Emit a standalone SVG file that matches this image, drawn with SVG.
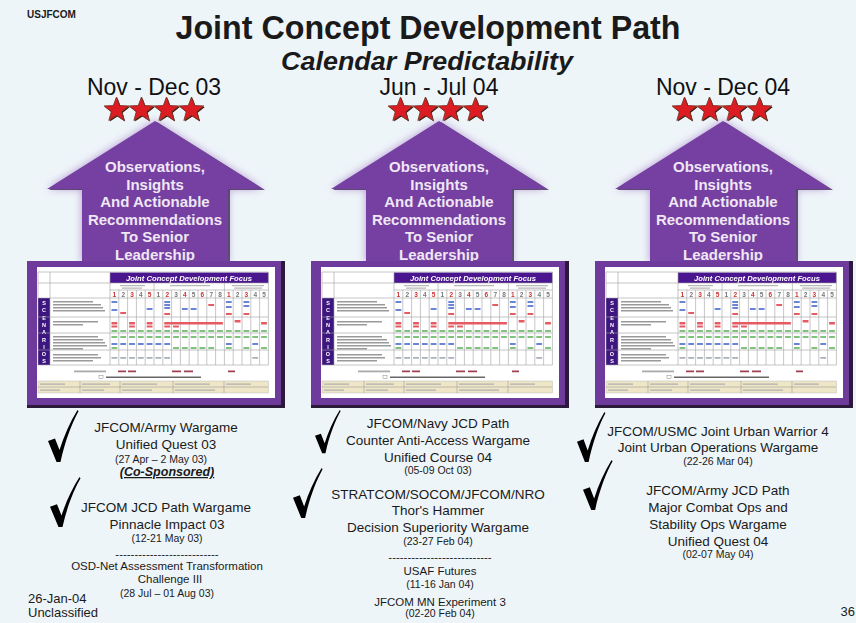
<svg xmlns="http://www.w3.org/2000/svg" xmlns:xlink="http://www.w3.org/1999/xlink" width="856" height="623" viewBox="0 0 856 623">
<style>
text{font-family:"Liberation Sans",Arial,sans-serif;fill:#1a1a1a}
.month{font-size:23px;text-anchor:middle;fill:#111}
.arr{font-size:15px;font-weight:bold;text-anchor:middle;fill:#efe7f4}
.t{font-size:13.5px;text-anchor:middle}
.d{font-size:10.5px;text-anchor:middle}
.s{font-size:11.5px;text-anchor:middle}
.num{font-size:6.5px;font-weight:bold;text-anchor:middle;fill:#777}
.num.r{fill:#d03030}
.sc{font-size:5.5px;font-weight:bold;text-anchor:middle;fill:#fff}
.gl{stroke:#a0a0a0;stroke-width:.6;fill:none}
.gb{fill:#9a9a9a}
</style>
<defs>
<filter id="soft" x="-5%" y="-5%" width="110%" height="110%"><feGaussianBlur stdDeviation="0.45"/></filter>
<filter id="glow" x="-20%" y="-20%" width="140%" height="140%"><feGaussianBlur stdDeviation="4"/></filter>
<filter id="edge" x="-5%" y="-5%" width="110%" height="110%"><feGaussianBlur stdDeviation="0.6"/></filter>
<path id="star" d="M0,-13 L3.23,-4.45 L12.36,-4.02 L5.23,1.7 L7.64,10.52 L0,5.5 L-7.64,10.52 L-5.23,1.7 L-12.36,-4.02 L-3.23,-4.45 Z"/>
<g id="star3d">
<use href="#star" transform="translate(1,1)" fill="#3a1a10"/>
<use href="#star" fill="#dc1b22" stroke="#7a3526" stroke-width="0.9"/>
</g>
<g id="stars">
<use href="#star3d" x="116.5" y="110"/>
<use href="#star3d" x="141.5" y="110"/>
<use href="#star3d" x="166.5" y="110"/>
<use href="#star3d" x="191.5" y="110"/>
</g>
<path id="arrowP" d="M155 121L263 189H228V263H82V189H47Z"/>
<g id="arrow">
<use href="#arrowP" fill="#b596d2" filter="url(#glow)"/>
<use href="#arrowP" transform="translate(2,1)" fill="#32204a" opacity="0.75"/>
<use href="#arrowP" fill="#7641a3" filter="url(#edge)"/>
</g>
<g id="frame">
<rect x="27" y="261" width="258" height="147" fill="#2c1a3a"/>
<rect x="27" y="261" width="254" height="144" fill="#6e3a9b"/>
<rect x="37" y="267" width="238" height="131" fill="#ffffff"/>
</g>
<g id="tbl" filter="url(#soft)">
<rect x="110" y="272.5" width="158.4" height="10.5" fill="#4a1490"/>
<text x="189" y="280.8" style="font-size:7.5px;font-weight:bold;font-style:italic;fill:#fff;text-anchor:middle" textLength="126" lengthAdjust="spacingAndGlyphs">Joint Concept Development Focus</text>
<rect x="38" y="298" width="12" height="67" fill="#3d1480"/>
<text class="sc" x="44" y="305">S</text>
<text class="sc" x="44" y="312.3">C</text>
<text class="sc" x="44" y="319.6">E</text>
<text class="sc" x="44" y="326.9">N</text>
<text class="sc" x="44" y="334.2">A</text>
<text class="sc" x="44" y="341.5">R</text>
<text class="sc" x="44" y="348.8">I</text>
<text class="sc" x="44" y="356.1">O</text>
<text class="sc" x="44" y="363.4">S</text>
<path class="gl" d="M38 272V365M50 272V365M110 272V365M268.4 272V365M118.8 290V365M127.6 290V365M136.4 290V365M145.2 290V365M154 283V365M162.8 290V365M171.6 290V365M180.4 290V365M189.2 290V365M198 290V365M206.8 290V365M215.6 290V365M224.4 283V365M233.2 290V365M242 290V365M250.8 290V365M259.6 290V365M38 272H268.4M38 283H268.4M110 290H268.4M38 298H268.4M38 317H268.4M38 333H268.4M38 350H268.4M38 365H268.4"/>
<text class="num r" x="114.4" y="296.6">1</text><text class="num" x="123.2" y="296.6">2</text><text class="num r" x="132" y="296.6">3</text><text class="num" x="140.8" y="296.6">4</text><text class="num r" x="149.6" y="296.6">5</text>
<text class="num" x="158.4" y="296.6">1</text><text class="num r" x="167.2" y="296.6">2</text><text class="num" x="176" y="296.6">3</text><text class="num r" x="184.8" y="296.6">4</text><text class="num" x="193.6" y="296.6">5</text><text class="num r" x="202.4" y="296.6">6</text><text class="num" x="211.2" y="296.6">7</text><text class="num" x="220" y="296.6">8</text>
<text class="num r" x="228.8" y="296.6">1</text><text class="num" x="237.6" y="296.6">2</text><text class="num r" x="246.4" y="296.6">3</text><text class="num" x="255.2" y="296.6">4</text><text class="num" x="264" y="296.6">5</text>
<path fill="#b8b8b8" d="M120 285h25v1.2h-25zM122 287.5h20v1.2h-20zM170 285h40v1.2h-40zM232 285h32v1.2h-32zM234 287.5h28v1.2h-28z"/>
<path class="gb" d="M53 301h40v1.4h-40zM53 304h48v1.4h-48zM53 307h50v1.4h-50zM53 310h52v1.4h-52zM53 321h45v1.4h-45zM53 324h30v1.4h-30zM53 336h45v1.4h-45zM53 339h50v1.4h-50zM53 342h52v1.4h-52zM53 345h54v1.4h-54zM53 348h30v1.4h-30zM53 354h45v1.4h-45zM53 357h48v1.4h-48zM53 360h40v1.4h-40z"/>
<path fill="#6b84d6" d="M111.5 301h5.8v2h-5.8zM111.5 309h5.8v2h-5.8zM146.7 308h5.8v2h-5.8zM164.3 301h5.8v2h-5.8zM164.3 304h5.8v2h-5.8zM164.3 307h5.8v2h-5.8zM181.9 308h5.8v2h-5.8zM190.7 308h5.8v2h-5.8zM225.9 301h5.8v2h-5.8zM225.9 306h5.8v2h-5.8zM243.5 301h5.8v2h-5.8zM243.5 305h5.8v2h-5.8zM111.5 343h5.8v2h-5.8zM120.3 343h5.8v2h-5.8zM129.1 343h5.8v2h-5.8zM137.9 343h5.8v2h-5.8zM146.7 343h5.8v2h-5.8zM155.5 343h5.8v2h-5.8zM164.3 343h5.8v2h-5.8zM225.9 343h5.8v2h-5.8zM252.3 343h5.8v2h-5.8z"/>
<path fill="#a8b0bc" d="M111.5 357h5.8v1.8h-5.8zM120.3 357h5.8v1.8h-5.8zM129.1 357h5.8v1.8h-5.8zM137.9 357h5.8v1.8h-5.8zM146.7 357h5.8v1.8h-5.8zM155.5 357h5.8v1.8h-5.8zM164.3 357h5.8v1.8h-5.8zM252.3 357h5.8v1.8h-5.8z"/>
<path fill="#e65a62" d="M120.3 312h5.8v2h-5.8zM164.3 313h5.8v2h-5.8zM208.3 304h5.8v2h-5.8zM225.9 313h5.8v2h-5.8zM243.5 313h5.8v2h-5.8zM111.5 322h5.8v2.4h-5.8zM129.1 322h5.8v2.4h-5.8zM146.7 322h5.8v2.4h-5.8zM164.3 322h58.6v2.4h-58.6zM261.1 322h5.8v2.4h-5.8zM234.7 320h5.8v2.4h-5.8zM111.5 325.5h5.8v2h-5.8zM129.1 325.5h5.8v2h-5.8zM146.7 325.5h5.8v2h-5.8zM164.3 325.5h5.8v2h-5.8zM173.1 325.5h5.8v2h-5.8z"/>
<path stroke="#7ec27e" stroke-width="2" stroke-dasharray="5.8 3" d="M111.5 331H267.5M111.5 337H267.5"/>
<path fill="#7ec27e" d="M111.5 347h5.8v2h-5.8zM173.1 347h5.8v2h-5.8zM181.9 347h5.8v2h-5.8zM190.7 347h5.8v2h-5.8zM199.5 347h5.8v2h-5.8zM208.3 347h5.8v2h-5.8zM225.9 347h5.8v2h-5.8zM243.5 347h5.8v2h-5.8zM261.1 347h5.8v2h-5.8z"/>
<path fill="#aaa" d="M74 370.5h32v1.8h-32z"/>
<path fill="#a04050" d="M118 370.5h8v1.8h-8zM128 370.5h8v1.8h-8zM172 370.5h9v1.8h-9zM184 370.5h9v1.8h-9zM228 370.5h7v1.8h-7z"/>
<rect x="99" y="375.5" width="4" height="3" fill="none" stroke="#888" stroke-width=".5"/>
<path fill="#666" d="M106 376.5h95v1.6h-95z"/>
<rect x="38" y="381" width="230.4" height="12" fill="#eee6c6" stroke="#bbb" stroke-width=".5"/>
<path class="gl" d="M80 381V393M120 381V393M173 381V393M224 381V393M38 387H268.4"/>
<path fill="#b0b0b0" d="M40 383.5h25v1.2h-25zM40 389.5h20v1.2h-20zM82 383.5h28v1.2h-28zM82 389.5h22v1.2h-22zM122 383.5h35v1.2h-35zM122 389.5h30v1.2h-30zM175 383.5h35v1.2h-35zM175 389.5h40v1.2h-40zM226 383.5h25v1.2h-25z"/>
</g>
<path id="chk" d="M0,31 L7,28.5 L11.5,40 C16,26 22,12 29.5,0 L30.5,1.2 C24,13 17,31 12.5,52 L8.5,52 Z"/>
</defs>

<rect x="0" y="0" width="856" height="623" fill="#eef5f9"/>

<g id="header">
<text x="27" y="18" style="font-size:10px;font-weight:bold">USJFCOM</text>
<text x="428" y="38.5" style="font-size:33px;font-weight:bold;text-anchor:middle" textLength="505" lengthAdjust="spacingAndGlyphs">Joint Concept Development Path</text>
<text x="427" y="69.5" style="font-size:25.5px;font-weight:bold;font-style:italic;text-anchor:middle" textLength="292" lengthAdjust="spacingAndGlyphs">Calendar Predictability</text>
</g>

<g id="col1">
<text class="month" x="154" y="95">Nov - Dec 03</text>
<use href="#stars"/>
<use href="#arrow"/>
<text class="arr"><tspan x="155" y="172">Observations,</tspan><tspan x="155" y="189.5">Insights</tspan><tspan x="155" y="207">And Actionable</tspan><tspan x="155" y="224.5">Recommendations</tspan><tspan x="155" y="242">To Senior</tspan><tspan x="155" y="259.5">Leadership</tspan></text>
<use href="#frame"/>
<use href="#tbl"/>
</g>

<g id="col2" transform="translate(284,0)">
<text class="month" x="155" y="95">Jun - Jul 04</text>
<use href="#stars"/>
<use href="#arrow"/>
<text class="arr"><tspan x="155" y="172">Observations,</tspan><tspan x="155" y="189.5">Insights</tspan><tspan x="155" y="207">And Actionable</tspan><tspan x="155" y="224.5">Recommendations</tspan><tspan x="155" y="242">To Senior</tspan><tspan x="155" y="259.5">Leadership</tspan></text>
<use href="#frame"/>
<use href="#tbl"/>
</g>

<g id="col3" transform="translate(568,0)">
<text class="month" x="155" y="95">Nov - Dec 04</text>
<use href="#stars"/>
<use href="#arrow"/>
<text class="arr"><tspan x="155" y="172">Observations,</tspan><tspan x="155" y="189.5">Insights</tspan><tspan x="155" y="207">And Actionable</tspan><tspan x="155" y="224.5">Recommendations</tspan><tspan x="155" y="242">To Senior</tspan><tspan x="155" y="259.5">Leadership</tspan></text>
<use href="#frame"/>
<use href="#tbl"/>
</g>

<g id="connectors"></g>

<g id="checks" fill="#000">
<use href="#chk" transform="translate(48,410)"/>
<use href="#chk" transform="translate(50,477) scale(1,0.96)"/>
<use href="#chk" transform="translate(315,410) scale(0.84,0.83)"/>
<use href="#chk" transform="translate(293,468) scale(0.97,0.96)"/>
<use href="#chk" transform="translate(577,412) scale(0.93,0.96)"/>
<use href="#chk" transform="translate(583,460) scale(0.97,0.96)"/>
</g>

<g id="events1">
<text class="t" x="166" y="432">JFCOM/Army Wargame</text>
<text class="t" x="166" y="449">Unified Quest 03</text>
<text class="d" x="161" y="463">(27 Apr – 2 May 03)</text>
<text x="167" y="476" style="font-size:12.5px;font-weight:bold;font-style:italic;text-anchor:middle;text-decoration:underline">(Co-Sponsored)</text>
<text class="t" x="166" y="512">JFCOM JCD Path Wargame</text>
<text class="t" x="167" y="529">Pinnacle Impact 03</text>
<text class="d" x="167" y="542">(12-21 May 03)</text>
<text class="s" x="167" y="558">---------------------------</text>
<text class="s" x="167" y="570">OSD-Net Assessment Transformation</text>
<text class="s" x="170" y="583">Challenge III</text>
<text class="d" x="167" y="597">(28 Jul – 01 Aug 03)</text>
</g>

<g id="events2">
<text class="t" x="438" y="428">JFCOM/Navy JCD Path</text>
<text class="t" x="438" y="445">Counter Anti-Access Wargame</text>
<text class="t" x="438" y="462">Unified Course 04</text>
<text class="d" x="438" y="474">(05-09 Oct 03)</text>
<text class="t" x="438" y="499">STRATCOM/SOCOM/JFCOM/NRO</text>
<text class="t" x="438" y="515">Thor's Hammer</text>
<text class="t" x="438" y="532">Decision Superiority Wargame</text>
<text class="d" x="438" y="545">(23-27 Feb 04)</text>
<text class="s" x="440" y="561">---------------------------</text>
<text class="s" x="440" y="575">USAF Futures</text>
<text class="d" x="440" y="588">(11-16 Jan 04)</text>
<text class="s" x="440" y="606">JFCOM MN Experiment 3</text>
<text class="d" x="440" y="617">(02-20 Feb 04)</text>
</g>

<g id="events3">
<text class="t" x="718" y="436">JFCOM/USMC Joint Urban Warrior 4</text>
<text class="t" x="718" y="452">Joint Urban Operations Wargame</text>
<text class="d" x="718" y="465">(22-26 Mar 04)</text>
<text class="t" x="718" y="495">JFCOM/Army JCD Path</text>
<text class="t" x="718" y="512">Major Combat Ops and</text>
<text class="t" x="718" y="529">Stability Ops Wargame</text>
<text class="t" x="718" y="546">Unified Quest 04</text>
<text class="d" x="718" y="558">(02-07 May 04)</text>
</g>

<g id="footer">
<text x="28" y="603" style="font-size:13px">26-Jan-04</text>
<text x="28" y="617" style="font-size:13px">Unclassified</text>
<text x="855" y="616" style="font-size:13px;text-anchor:end">36</text>
</g>
</svg>
